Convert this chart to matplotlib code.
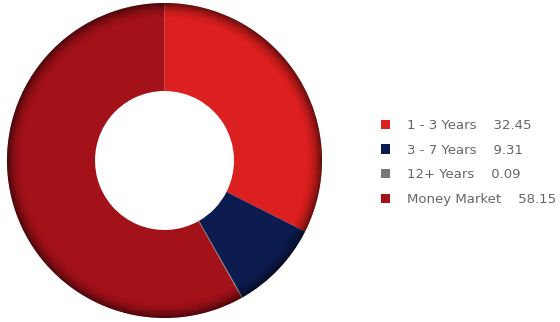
import matplotlib.pyplot as plt
from matplotlib.patches import Patch, Circle

labels = ["1 - 3 Years", "3 - 7 Years", "12+ Years", "Money Market"]
values = [32.45, 9.31, 0.09, 58.15]
colors = ["#dc1f1f", "#0d1c50", "#777777", "#a31119"]

fig = plt.figure(figsize=(5.6, 3.22), dpi=100)
ax = fig.add_axes([0, 0, 1, 1])

cx, cy, r_out, r_in = 164.5, 161.5, 157.5, 69.5

ax.pie(values, colors=colors, startangle=90, counterclock=False,
       center=(cx, cy), radius=r_out,
       wedgeprops=dict(width=r_out - r_in, linewidth=0))

# darker rim to fake the radial shading (1px circles, alpha growing outward)
n = 16
for i in range(n):
    t = (i + 1) / n
    r = r_out - n + i + 0.5
    ax.add_patch(Circle((cx, cy), r, fill=False, edgecolor="black",
                        linewidth=0.75, alpha=0.55 * t ** 2.2))

ax.set_xlim(0, 560)
ax.set_ylim(0, 322)
ax.set_aspect("equal")
ax.axis("off")

handles = [Patch(facecolor=c, edgecolor="none") for c in colors]
texts = [f"{l}    {v:.2f}" for l, v in zip(labels, values)]
leg = ax.legend(handles, texts, loc="center left", frameon=False, fontsize=9.5,
                handlelength=0.7, handleheight=0.7, handletextpad=1.3,
                labelspacing=0.88, labelcolor="#666666", borderaxespad=0,
                borderpad=0)
leg.set_bbox_to_anchor((381 / 560, 159.5 / 322), transform=fig.transFigure)

fig.savefig("out.png", dpi=100)
